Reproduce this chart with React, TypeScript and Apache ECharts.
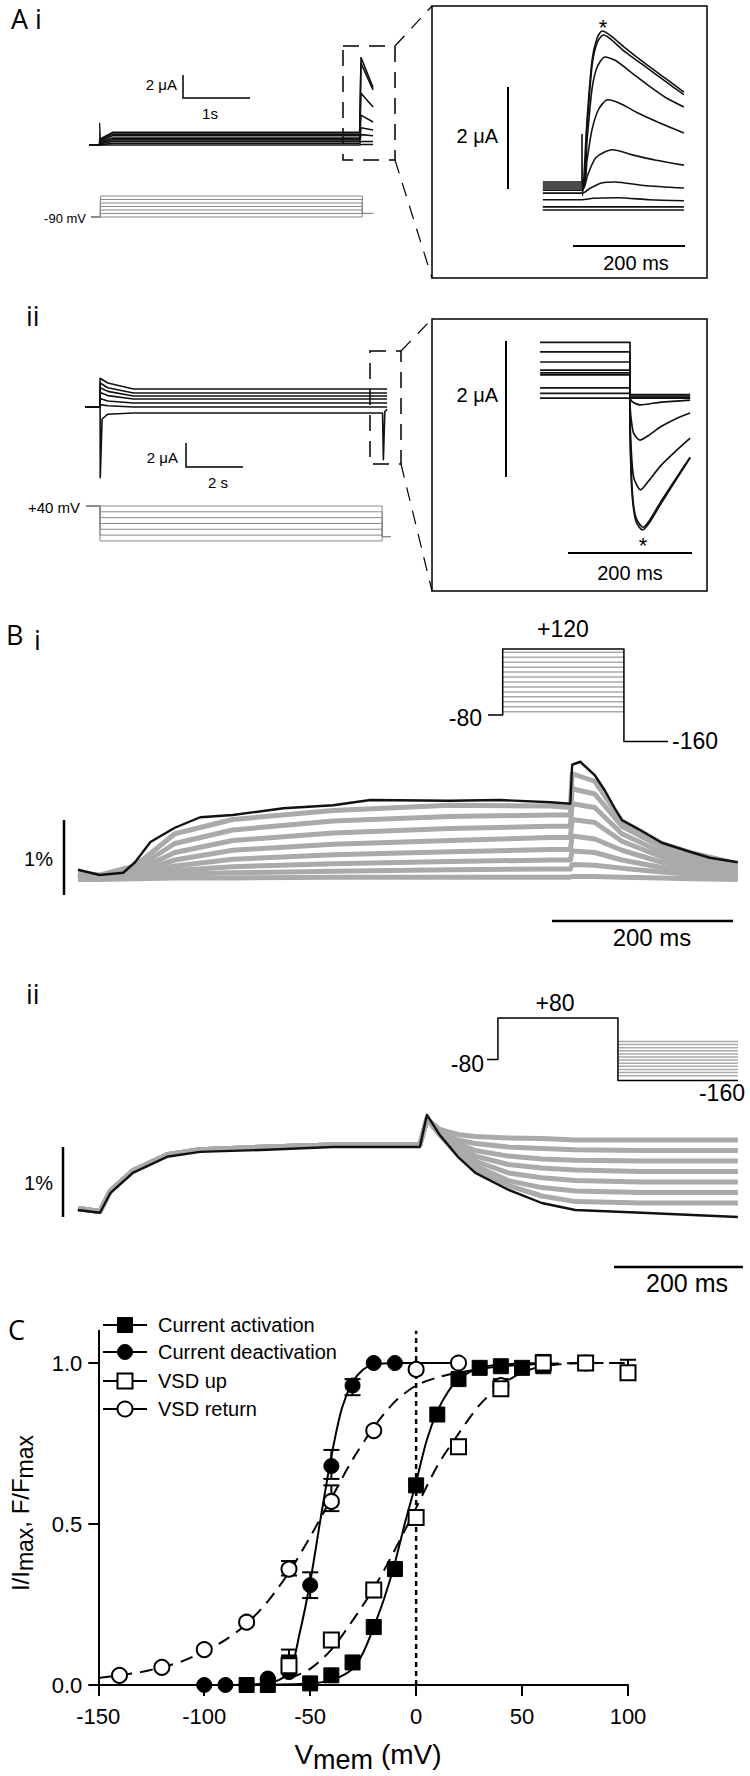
import React, { useEffect, useRef } from "react";
import * as echarts from "echarts";

// ---------------- Panel A i (activation currents) ----------------
const aiMainT = [0, 0.16, 0.35, 4.04, 4.06, 4.24]; // s
const aiMainLevels = [0, 0.15, 0.3, 0.45, 0.6, 0.8, 0.95, 1.1]; // µA
const aiMainOnset = [0, 0.05, 0.1, 0.18, 0.25, 0.35, 0.42, 0.5];
const aiMainPeaks = [0.05, 0.3, 0.9, 1.5, 2.6, 4.5, 7.1, 7.6];
const aiMainEnds = [0.05, 0.3, 0.8, 1.3, 2.0, 3.3, 4.8, 5.0];
const aiMainSpike = [[0.16, 0], [0.16, 1.9], [0.17, 0.4]];

const aiInset = [
  [[-70, 0.57], [0, 0.57], [0, 1.5], [1, 0.3], [9, 1.78], [18, 2.96], [27, 3.39], [36, 3.53], [50, 3.45], [77, 3.2], [112, 2.9], [148, 2.61], [182, 2.33]],
  [[-70, 0.53], [0, 0.53], [9, 1.65], [18, 2.85], [27, 3.3], [38, 3.45], [50, 3.38], [77, 3.12], [112, 2.84], [148, 2.55], [182, 2.28]],
  [[-70, 0.49], [0, 0.49], [9, 1.4], [18, 2.4], [27, 2.82], [41, 3.02], [60, 2.95], [90, 2.7], [120, 2.45], [150, 2.22], [182, 2.04]],
  [[-70, 0.45], [0, 0.45], [9, 1.0], [18, 1.6], [30, 2.0], [46, 2.18], [70, 2.1], [100, 1.92], [140, 1.72], [182, 1.53]],
  [[-70, 0.41], [0, 0.41], [10, 0.7], [25, 1.05], [54, 1.2], [90, 1.1], [130, 1.0], [182, 0.9]],
  [[-70, 0.35], [0, 0.35], [15, 0.45], [35, 0.55], [59, 0.57], [110, 0.5], [182, 0.45]],
  [[-70, 0.22], [0, 0.22], [20, 0.25], [64, 0.26], [120, 0.22], [182, 0.2]],
  [[-70, 0.08], [182, 0.08]],
  [[-70, 0.02], [182, 0.02]],
];

const aiProtoT = [0, 0.14, 4.05, 4.21];
const aiProtoHold = -90;
const aiProtoTail = -70;
const aiProtoLevels = [-90, -70, -50, -30, -10, 10, 30];

// ---------------- Panel A ii (deactivation currents) ----------------
const aiiMainT = [0, 0.53, 0.8, 1.7, 10.45, 10.6];
const aiiMainPeak = [2.4, 2.0, 1.6, 1.2, 0.7, 0.2];
const aiiMainMid = [2.0, 1.6, 1.3, 0.95, 0.5, 0.1];
const aiiMainLevel = [1.5, 1.17, 0.92, 0.67, 0.33, 0];
const aiiMainLow = [[0, 0], [0.53, 0], [0.535, -5.9], [0.6, -1.0], [0.8, -0.6], [1.7, -0.5], [10.44, -0.5], [10.47, -4.4], [10.52, -0.4], [10.6, -0.2]];

const aiiInset = [
  [[-145, 0.79], [0, 0.79], [0, -0.3], [2, -1.2], [5, -1.6], [10, -1.85], [20, -1.97], [30, -1.88], [50, -1.58], [75, -1.22], [97, -0.91]],
  [[-145, 0.65], [0, 0.65], [0, -0.3], [2, -1.1], [5, -1.55], [10, -1.8], [21, -1.93], [30, -1.85], [50, -1.55], [75, -1.2], [97, -0.9]],
  [[-145, 0.5], [0, 0.5], [0, -0.2], [2, -0.8], [6, -1.2], [17, -1.38], [30, -1.25], [50, -1.02], [75, -0.8], [97, -0.62]],
  [[-145, 0.38], [0, 0.38], [0, -0.1], [2, -0.35], [6, -0.55], [16, -0.65], [30, -0.58], [50, -0.45], [75, -0.33], [97, -0.25]],
  [[-145, 0.34], [0, 0.34], [0, 0], [3, -0.08], [16, -0.13], [50, -0.09], [97, -0.06]],
  [[-145, 0.31], [0, 0.31], [0, 0.02], [97, 0.02]],
  [[-145, 0.12], [0, 0.12], [0, 0.0], [97, 0.0]],
  [[-145, 0.04], [0, 0.04], [0, -0.02], [97, -0.02]],
  [[-145, -0.03], [97, -0.03]],
];

const aiiProtoT = [0, 0.49, 10.39, 10.7];
const aiiProtoHold = 40;
const aiiProtoTail = -65;
const aiiProtoLevels = [40, 20, 0, -20, -40, -60, -80];

// ---------------- Panel B i (VSD fluorescence, activation) ----------------
const biProtoT = [0, 40, 370, 490];
const biProtoHold = -80;
const biProtoTop = 120;
const biProtoTail = -160;
const biProtoLevels = [-70, -55, -40, -25, -10, 5, 20, 35, 50, 65, 80, 95, 110];

const biT = [0, 24, 50, 63, 80, 107, 135, 171, 227, 282, 323, 411, 466, 522, 544, 546, 555, 571, 582, 593, 601, 621, 645, 676, 698, 729];
const biBlack = [0.07, 0, 0.03, 0.17, 0.44, 0.63, 0.77, 0.8, 0.89, 0.93, 1.0, 0.99, 1.0, 0.97, 0.95, 1.47, 1.51, 1.33, 1.13, 0.89, 0.73, 0.6, 0.43, 0.31, 0.23, 0.17];
const biGrayT = [0, 24, 63, 107, 171, 282, 411, 522, 544, 546, 571, 601, 645, 676, 729];
const biGray1 = [0.03, 0, 0.12, 0.55, 0.74, 0.86, 0.93, 0.92, 0.9, 1.35, 1.25, 0.72, 0.42, 0.3, 0.15];
const biGray2 = [0, -0.02, 0.08, 0.42, 0.6, 0.72, 0.78, 0.8, 0.8, 1.15, 1.08, 0.65, 0.37, 0.25, 0.1];
const biGray3 = [0, -0.02, 0.05, 0.3, 0.46, 0.56, 0.62, 0.65, 0.65, 0.95, 0.9, 0.55, 0.3, 0.2, 0.07];
const biGray4 = [0, -0.03, 0.03, 0.2, 0.33, 0.41, 0.46, 0.5, 0.5, 0.74, 0.7, 0.45, 0.24, 0.14, 0.04];
const biGray5 = [0, -0.03, 0.02, 0.12, 0.21, 0.27, 0.31, 0.34, 0.34, 0.52, 0.48, 0.33, 0.17, 0.1, 0.02];
const biGray6 = [-0.02, -0.03, 0, 0.06, 0.11, 0.15, 0.18, 0.2, 0.2, 0.32, 0.3, 0.2, 0.1, 0.05, 0];
const biGray7 = [-0.03, -0.04, -0.02, 0.01, 0.03, 0.05, 0.07, 0.08, 0.08, 0.14, 0.13, 0.09, 0.04, 0.01, -0.02];
const biGray8 = [-0.06, -0.06, -0.05, -0.04, -0.04, -0.03, -0.03, -0.03, -0.03, -0.02, -0.02, -0.03, -0.04, -0.05, -0.06];

// ---------------- Panel B ii (VSD fluorescence, return) ----------------
const biiProtoT = [0, 30, 360, 690];
const biiProtoHold = -80;
const biiProtoTop = 80;
const biiProtoTail = -160;
const biiProtoLevels = [-10, -22, -34, -46, -58, -70, -82, -94, -106, -118, -130, -142];

const biiT = [0, 34, 50, 85, 138, 189, 293, 395, 457, 530, 541, 561, 589, 616, 667, 719, 771, 874, 1023];
const biiBlack = [0, -0.04, 0.24, 0.53, 0.76, 0.83, 0.86, 0.9, 0.9, 0.9, 1.36, 1.07, 0.76, 0.53, 0.29, 0.1, 0, -0.04, -0.1];
const biiGrayPre = [0.02, -0.02, 0.27, 0.56, 0.79, 0.86, 0.9, 0.93, 0.93, 0.93];
const biiGrayPost1 = [1.3, 1.15, 1.08, 1.05, 1.03, 1.02, 1.0, 1.0, 1.0];
const biiGrayPost2 = [1.3, 1.12, 1.0, 0.95, 0.9, 0.88, 0.86, 0.85, 0.85];
const biiGrayPost3 = [1.3, 1.1, 0.95, 0.85, 0.77, 0.73, 0.71, 0.7, 0.7];
const biiGrayPost4 = [1.3, 1.1, 0.9, 0.77, 0.65, 0.6, 0.57, 0.55, 0.55];
const biiGrayPost5 = [1.3, 1.08, 0.86, 0.7, 0.53, 0.46, 0.42, 0.4, 0.4];
const biiGrayPost6 = [1.3, 1.08, 0.82, 0.63, 0.42, 0.32, 0.27, 0.25, 0.25];
const biiGrayPost7 = [1.3, 1.07, 0.79, 0.58, 0.35, 0.2, 0.12, 0.1, 0.1];

// ---------------- Panel C (normalized I-V / F-V) ----------------
const actV = [-80, -70, -60, -50, -40, -30, -20, -10, 0, 10, 20, 30, 40, 50, 60];
const actI = [0, 0, 0.07, 0.005, 0.03, 0.07, 0.18, 0.36, 0.62, 0.84, 0.95, 0.985, 0.99, 0.985, 0.99];
const deactV = [-100, -90, -80, -70, -60, -50, -40, -30, -20, -10];
const deactI = [0, 0, 0, 0.02, 0.04, 0.31, 0.68, 0.93, 1.0, 1.0];
const vsdUpV = [-60, -40, -20, 0, 20, 40, 60, 80, 100];
const vsdUpF = [0.06, 0.14, 0.295, 0.52, 0.74, 0.92, 1.0, 1.0, 0.97];
const vsdRetV = [-140, -120, -100, -80, -60, -40, -20, 0, 20, 40, 80];
const vsdRetF = [0.03, 0.055, 0.11, 0.195, 0.36, 0.57, 0.79, 0.98, 1.0, 0.93, 1.0];

const actFitV = [-80, -50, -40, -30, -25, -20, -15, -10, -5, 0, 5, 10, 15, 20, 30, 40, 60];
const actFitY = [0, 0.005, 0.015, 0.05, 0.1, 0.18, 0.27, 0.38, 0.51, 0.63, 0.76, 0.85, 0.91, 0.95, 0.985, 0.995, 1.0];
const deactFitV = [-100, -70, -60, -55, -50, -45, -40, -35, -30, -25, -20, -10, 0, 20];
const deactFitY = [0, 0.005, 0.04, 0.16, 0.32, 0.52, 0.71, 0.86, 0.94, 0.98, 0.995, 1.0, 1.0, 1.0];
const vsdUpFitV = [-60, -50, -40, -30, -20, -10, 0, 10, 20, 30, 40, 50, 60, 80, 100];
const vsdUpFitY = [0.02, 0.05, 0.11, 0.2, 0.3, 0.42, 0.55, 0.68, 0.78, 0.87, 0.93, 0.97, 0.99, 1.0, 1.0];
const vsdRetFitV = [-150, -140, -130, -120, -110, -100, -90, -80, -70, -60, -50, -40, -30, -20, -10, 0, 10, 20, 40, 80, 95];
const vsdRetFitY = [0.022, 0.03, 0.04, 0.055, 0.075, 0.105, 0.14, 0.19, 0.26, 0.35, 0.46, 0.58, 0.7, 0.8, 0.88, 0.93, 0.955, 0.97, 0.99, 1.0, 1.0];

const errV = [-50, -40, -30, -60, -40, 40, 60, 100, -60];
const errLo = [0.27, 0.64, 0.9, 0.34, 0.54, 0.905, 0.98, 0.95, 0.04];
const errHi = [0.35, 0.73, 0.95, 0.385, 0.62, 0.95, 1.025, 1.01, 0.11];

const zeroLine = [[0, 0], [0, 1.1]];
const cXTicks = [-150, -100, -50, 0, 50, 100];
const cYTicks = [0, 0.5, 1.0];
const legendNames = ["Current activation", "Current deactivation", "VSD up", "VSD return"];

// ---------------- helpers ----------------
const FONT = '"Liberation Sans", Arial, Helvetica, sans-serif';
const LFONT = '"Open Sans", "Noto Sans", sans-serif';
const zip = (xs: number[], ys: number[]) => xs.map((x, i) => [x, ys[i]]);

const gridLayout = [
  { left: 89, top: 53, width: 288.1, height: 96.6 },
  { left: 542.8, top: 22.3, width: 141.1, height: 198.9 },
  { left: 91, top: 195.1, width: 282, height: 22.75 },
  { left: 85, top: 371, width: 307.8, height: 114 },
  { left: 540.1, top: 334.8, width: 150.04, height: 204 },
  { left: 86, top: 504.5, width: 305, height: 37.9 },
  { left: 488, top: 645.7, width: 180, height: 99 },
  { left: 78, top: 740, width: 665.2, height: 150 },
  { left: 487, top: 1015.4, width: 251, height: 67.6 },
  { left: 78, top: 1098, width: 664.35, height: 133 },
  { left: 98.3, top: 1330.8, width: 529.7, height: 354.2 },
];
const xRanges = [[0, 4.3], [-70, 182], [0, 4.209], [0, 10.8], [-145, 97], [0, 10.7], [0, 490], [0, 735], [0, 690], [0, 1030], [-150, 100]];
const yRanges = [[-0.4, 8], [-0.2, 3.7], [-95, 35], [-6.5, 3], [-2.1, 0.9], [-85, 45], [-170, 130], [-0.2, 1.8], [-170, 90], [-0.3, 1.6], [0, 1.1]];

function ls(g: number, data: any[], color: string, width: number, z = 2, dash?: any, smooth: any = false) {
  return {
    type: "line", xAxisIndex: g, yAxisIndex: g, data, symbol: "none", showSymbol: false,
    silent: true, clip: false, z, smooth, animation: false,
    lineStyle: { color, width, type: dash || "solid", cap: "butt", join: "round", opacity: 1 },
  };
}

const txt = (s: string, x: number, y: number, size: number, align = "left", family = FONT) => ({
  type: "text", x, y, silent: true,
  style: { text: s, fontSize: size, fontFamily: family, fill: "#000", align, verticalAlign: "middle" },
});
const ln = (x1: number, y1: number, x2: number, y2: number, w = 1.5, dash?: number[]) => ({
  type: "line", silent: true, shape: { x1, y1, x2, y2 }, style: { stroke: "#000", lineWidth: w, lineDash: dash },
});
const pl = (pts: number[][], w = 1.5) => ({
  type: "polyline", silent: true, shape: { points: pts }, style: { stroke: "#000", lineWidth: w, fill: "none" },
});
const rc = (x: number, y: number, w: number, h: number, lw = 1.5, dash?: number[]) => ({
  type: "rect", silent: true, shape: { x, y, width: w, height: h }, style: { stroke: "#000", fill: "none", lineWidth: lw, lineDash: dash },
});

function buildOption() {
  const grid = gridLayout.map((g) => ({ ...g, containLabel: false, outerBoundsMode: "none", show: false }));
  const xAxis: any[] = xRanges.map((r, i) => ({ type: "value", gridIndex: i, min: r[0], max: r[1], show: false }));
  const yAxis: any[] = yRanges.map((r, i) => ({ type: "value", gridIndex: i, min: r[0], max: r[1], show: false }));

  const axisLineStyle = { color: "#000", width: 2 };
  xAxis[10] = {
    type: "value", gridIndex: 10, min: -150, max: 100, interval: 50, show: true,
    axisLine: { show: true, onZero: false, lineStyle: axisLineStyle },
    axisTick: { show: true, length: 11, lineStyle: axisLineStyle, customValues: cXTicks },
    axisLabel: { show: true, color: "#000", fontSize: 22, fontFamily: FONT, margin: 20, customValues: cXTicks },
    splitLine: { show: false },
  };
  yAxis[10] = {
    type: "value", gridIndex: 10, min: 0, max: 1.1, show: true,
    axisLine: { show: true, onZero: false, lineStyle: axisLineStyle },
    axisTick: { show: true, length: 10, lineStyle: axisLineStyle, customValues: cYTicks },
    axisLabel: {
      show: true, color: "#000", fontSize: 22, fontFamily: FONT, margin: 16, customValues: cYTicks,
      formatter: (v: number) => v.toFixed(1),
    },
    splitLine: { show: false },
  };

  const series: any[] = [];
  const BLK = "#111";
  const GRY = "#8a8a8a";

  // A i main
  aiMainLevels.forEach((L, k) => {
    series.push(ls(0, [
      [aiMainT[0], 0], [aiMainT[1], 0], [aiMainT[1], aiMainOnset[k]], [aiMainT[2], L],
      [aiMainT[3], L], [aiMainT[4], aiMainPeaks[k]], [aiMainT[5], aiMainEnds[k]],
    ], BLK, 1.6));
  });
  series.push(ls(0, aiMainSpike, BLK, 1.2));
  // A i inset
  aiInset.forEach((d) => series.push(ls(1, d, BLK, 1.6, 2, undefined, 0.25)));
  // A i protocol
  aiProtoLevels.forEach((L) => {
    series.push(ls(2, [
      [aiProtoT[0], aiProtoHold], [aiProtoT[1], aiProtoHold], [aiProtoT[1], L], [aiProtoT[2], L],
      [aiProtoT[2], aiProtoTail], [aiProtoT[3], aiProtoTail],
    ], GRY, 1));
  });

  // A ii main
  aiiMainLevel.forEach((L, k) => {
    series.push(ls(3, [
      [aiiMainT[0], 0], [aiiMainT[1], 0], [aiiMainT[1], aiiMainPeak[k]], [aiiMainT[2], aiiMainMid[k]],
      [aiiMainT[3], L], [aiiMainT[4], L], [aiiMainT[5], L],
    ], BLK, 1.6));
  });
  series.push(ls(3, aiiMainLow, BLK, 1.6));
  // A ii inset
  aiiInset.forEach((d) => series.push(ls(4, d, BLK, 1.7, 2, undefined, 0.25)));
  // A ii protocol
  aiiProtoLevels.forEach((L) => {
    series.push(ls(5, [
      [aiiProtoT[0], aiiProtoHold], [aiiProtoT[1], aiiProtoHold], [aiiProtoT[1], L], [aiiProtoT[2], L],
      [aiiProtoT[2], aiiProtoTail], [aiiProtoT[3], aiiProtoTail],
    ], GRY, 1));
  });

  // B i protocol
  biProtoLevels.forEach((L) => {
    series.push(ls(6, [[biProtoT[1], L], [biProtoT[2], L]], "#aaaaaa", 1.5));
  });
  series.push(ls(6, [
    [biProtoT[0], biProtoHold], [biProtoT[1], biProtoHold], [biProtoT[1], biProtoTop], [biProtoT[2], biProtoTop],
    [biProtoT[2], biProtoTail], [biProtoT[3], biProtoTail],
  ], "#000", 1.5, 3));
  // B i traces
  [biGray8, biGray7, biGray6, biGray5, biGray4, biGray3, biGray2, biGray1].forEach((g) =>
    series.push(ls(7, zip(biGrayT, g), "#aaaaaa", 5)));
  series.push(ls(7, zip(biT, biBlack), BLK, 2.4, 3));

  // B ii protocol
  biiProtoLevels.forEach((L) => {
    series.push(ls(8, [[biiProtoT[2], L], [biiProtoT[3], L]], "#aaaaaa", 1.5));
  });
  series.push(ls(8, [
    [biiProtoT[0], biiProtoHold], [biiProtoT[1], biiProtoHold], [biiProtoT[1], biiProtoTop], [biiProtoT[2], biiProtoTop],
    [biiProtoT[2], biiProtoTail], [biiProtoT[3], biiProtoTail],
  ], "#000", 1.5, 3));
  // B ii traces
  [biiGrayPost7, biiGrayPost6, biiGrayPost5, biiGrayPost4, biiGrayPost3, biiGrayPost2, biiGrayPost1].forEach((p) =>
    series.push(ls(9, zip(biiT, biiGrayPre.concat(p)), "#aaaaaa", 5)));
  series.push(ls(9, zip(biiT, biiBlack), BLK, 2.4, 3));

  // C
  series.push(ls(10, zeroLine, "#000", 2.5, 1, [5, 4]));
  series.push(ls(10, zip(actFitV, actFitY), "#000", 2, 3, "solid", 0.3));
  series.push(ls(10, zip(deactFitV, deactFitY), "#000", 2, 3, "solid", 0.3));
  series.push(ls(10, zip(vsdUpFitV, vsdUpFitY), "#000", 2, 3, [13, 8], 0.3));
  series.push(ls(10, zip(vsdRetFitV, vsdRetFitY), "#000", 2, 3, [13, 8], 0.3));
  series.push({
    type: "custom", xAxisIndex: 10, yAxisIndex: 10, z: 4, silent: true, animation: false,
    data: errV.map((v, i) => [v, errLo[i], errHi[i]]),
    renderItem: (_p: any, api: any) => {
      const a = api.coord([api.value(0), api.value(1)]);
      const b = api.coord([api.value(0), api.value(2)]);
      const st = { stroke: "#000", lineWidth: 2 };
      return {
        type: "group",
        children: [
          { type: "line", shape: { x1: a[0], y1: a[1], x2: b[0], y2: b[1] }, style: st },
          { type: "line", shape: { x1: a[0] - 8, y1: a[1], x2: a[0] + 8, y2: a[1] }, style: st },
          { type: "line", shape: { x1: b[0] - 8, y1: b[1], x2: b[0] + 8, y2: b[1] }, style: st },
        ],
      };
    },
  });
  const scat = (xs: number[], ys: number[], symbol: string, filled: boolean, z: number, name: string) => ({
    type: "scatter", name, xAxisIndex: 10, yAxisIndex: 10, data: zip(xs, ys), symbol, symbolSize: 15,
    z, silent: true, animation: false,
    itemStyle: filled
      ? { color: "#000", borderColor: "#000", borderWidth: 1, opacity: 1 }
      : { color: "#fff", borderColor: "#000", borderWidth: 2, opacity: 1 },
  });
  series.push(scat(deactV, deactI, "circle", true, 5, legendNames[1]));
  series.push(scat(vsdRetV, vsdRetF, "circle", false, 6, legendNames[3]));
  series.push(scat(actV, actI, "rect", true, 7, legendNames[0]));
  series.push(scat(vsdUpV, vsdUpF, "rect", false, 8, legendNames[2]));

  const tpart = (s: string, x: number, y: number, size: number) => ({
    type: "text", x, y, silent: true,
    style: { text: s, fontSize: size, fontFamily: FONT, fill: "#000", align: "left", verticalAlign: "middle" },
  });

  // annotations
  const g: any[] = [
    txt("A i", 11, 18, 27, "left", LFONT),
    txt("ii", 26, 315, 27, "left", LFONT),
    txt("B", 6, 634, 27, "left", LFONT),
    txt("i", 34, 639, 27, "left", LFONT),
    txt("ii", 26, 993, 27, "left", LFONT),
    txt("C", 8, 1329, 27, "left", LFONT),

    // A i
    txt("2 μA", 177, 84, 15, "right"),
    pl([[183, 75], [183, 98], [250, 98]], 1.5),
    txt("1s", 210, 113, 15, "center"),
    txt("-90 mV", 86, 218, 13, "right"),
    rc(343, 46, 52, 114, 1.5, [16, 10]),
    ln(395, 46, 432, 6, 1.2, [14, 10]),
    ln(395, 160, 432, 278, 1.2, [14, 10]),
    rc(432, 6, 275, 272, 1.5),
    txt("*", 603, 27, 22, "center"),
    txt("2 μA", 498, 136, 20, "right"),
    ln(508, 87, 508, 189, 2),
    ln(573, 246, 685, 246, 2),
    txt("200 ms", 636, 263, 20, "center"),

    // A ii
    txt("2 μA", 178, 457, 15, "right"),
    pl([[186, 443], [186, 467], [243, 467]], 1.5),
    txt("2 s", 218, 482, 15, "center"),
    txt("+40 mV", 80, 507, 15, "right"),
    rc(370, 351, 31, 113, 1.5, [16, 10]),
    ln(401, 351, 432, 319, 1.2, [14, 10]),
    ln(401, 464, 432, 591, 1.2, [14, 10]),
    rc(432, 319, 275, 272, 1.5),
    txt("2 μA", 498, 395, 20, "right"),
    ln(506, 341, 506, 477, 2),
    txt("*", 643, 545, 22, "center"),
    ln(568, 553, 692, 553, 2),
    txt("200 ms", 630, 573, 20, "center"),

    // B i
    txt("+120", 563, 629, 23, "center"),
    txt("-80", 482, 718, 23, "right"),
    txt("-160", 672, 741, 23, "left"),
    txt("1%", 53, 859, 20, "right"),
    ln(64, 820, 64, 895, 2.5),
    ln(552, 921, 733, 921, 2.5),
    txt("200 ms", 652, 937, 24, "center"),

    // B ii
    txt("+80", 555, 1003, 23, "center"),
    txt("-80", 484, 1064, 23, "right"),
    txt("-160", 745, 1093, 23, "right"),
    txt("1%", 53, 1183, 20, "right"),
    ln(63, 1147, 63, 1217, 2.5),
    ln(614, 1267, 743, 1267, 2.5),
    txt("200 ms", 687, 1283, 25, "center"),

    // C axis titles (subscripts lowered)
    {
      type: "group", x: 20, y: 1513, rotation: Math.PI / 2, silent: true,
      children: [
        tpart("I/I", -78.1, 0, 24),
        tpart("max", -58.1, 5, 23),
        tpart(", F/F", -14.7, 0, 24),
        tpart("max", 34.6, 5, 23),
      ],
    },
    tpart("V", 294.4, 1754, 28),
    tpart("mem", 313.1, 1760, 27),
    tpart(" (mV)", 373.1, 1754, 28),
  ];

  // C legend
  const legY = [1325, 1352, 1381, 1409];
  const legShape = ["rect", "circle", "rect", "circle"];
  const legFilled = [true, true, false, false];
  legendNames.forEach((name, i) => {
    const y = legY[i];
    g.push(ln(103, y, 147, y, 2));
    const st = legFilled[i] ? { fill: "#000", stroke: "#000", lineWidth: 1 } : { fill: "#fff", stroke: "#000", lineWidth: 2 };
    if (legShape[i] === "rect") g.push({ type: "rect", silent: true, shape: { x: 117.5, y: y - 7.5, width: 15, height: 15 }, style: st });
    else g.push({ type: "circle", silent: true, shape: { cx: 125, cy: y, r: 7.5 }, style: st });
    g.push(txt(name, 158, y, 20, "left"));
  });

  return { animation: false, backgroundColor: "#fff", grid, xAxis, yAxis, series, graphic: { elements: g } };
}

export default function App() {
  const ref = useRef<HTMLDivElement>(null);
  useEffect(() => {
    document.body.style.margin = "0";
    const chart = echarts.init(ref.current as HTMLDivElement, null, { renderer: "svg" });
    chart.setOption(buildOption() as any);
    return () => chart.dispose();
  }, []);
  return <div ref={ref} style={{ width: 750, height: 1776 }} />;
}
